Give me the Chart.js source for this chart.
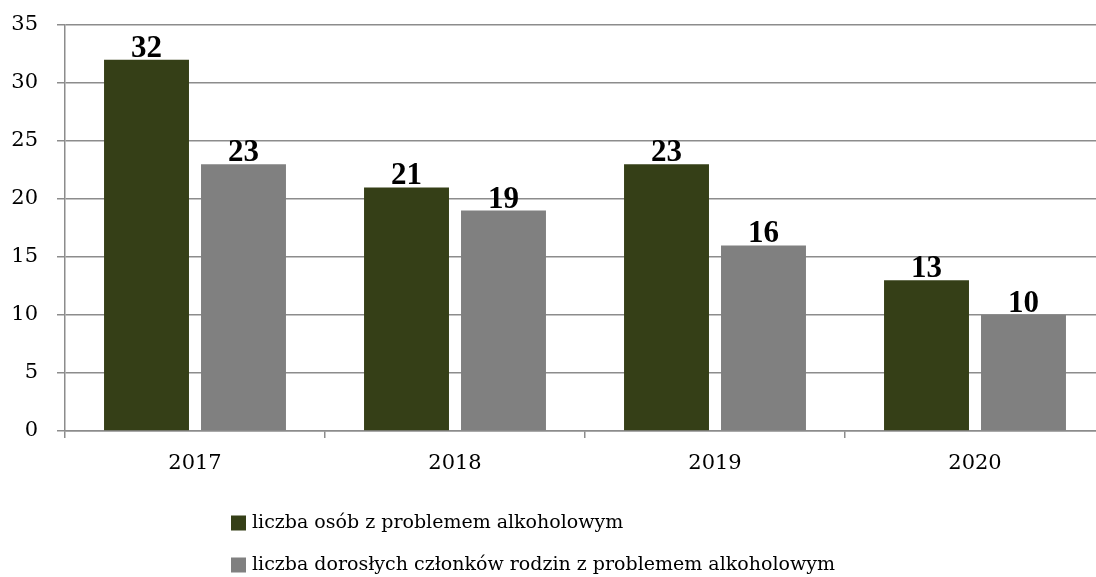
<!DOCTYPE html>
<html>
<head>
<meta charset="utf-8">
<script src="https://cdn.jsdelivr.net/npm/chart.js@4/dist/chart.umd.min.js"></script>
<style>
  html, body { margin: 0; padding: 0; background: #fff; overflow: hidden; }
  .chart-box { position: relative; width: 1105px; height: 577px; }
</style>
</head>
<body>
<div class="chart-box">
  <canvas id="chart"></canvas>
</div>
<script>
// chart data
const years = ['2017', '2018', '2019', '2020'];
const osobyZProblemem = [32, 21, 23, 13];
const czlonkowieRodzin = [23, 19, 16, 10];
const seriesNames = [
  'liczba osób z problemem alkoholowym',
  'liczba dorosłych członków rodzin z problemem alkoholowym'
];
const yTicks = [0, 5, 10, 15, 20, 25, 30, 35];

const gridColor = '#8c8c8c';
const serif = "'DejaVu Serif', serif";
const boldSerif = "'Liberation Serif', serif";

// value labels on top of each bar
const valueLabels = {
  id: 'valueLabels',
  afterDatasetsDraw(chart) {
    const ctx = chart.ctx;
    ctx.save();
    ctx.font = 'bold 31px ' + boldSerif;
    ctx.fillStyle = '#000';
    ctx.textAlign = 'center';
    ctx.textBaseline = 'alphabetic';
    chart.data.datasets.forEach((ds, i) => {
      chart.getDatasetMeta(i).data.forEach((bar, j) => {
        ctx.fillText(ds.data[j], bar.x, bar.y - 3);
      });
    });
    ctx.restore();
  }
};

// legend stacked in two rows, left aligned
const stackedLegend = {
  id: 'stackedLegend',
  afterDraw(chart) {
    const ctx = chart.ctx;
    const left = 231;
    ctx.save();
    ctx.font = '19px ' + serif;
    ctx.textBaseline = 'middle';
    chart.data.datasets.forEach((ds, i) => {
      const cy = chart.chartArea.bottom + 92 + i * 42;
      ctx.fillStyle = ds.backgroundColor;
      ctx.fillRect(left, cy - 7.5, 15, 15);
      ctx.fillStyle = '#000';
      ctx.fillText(ds.label, left + 21, cy);
    });
    ctx.restore();
  }
};

new Chart(document.getElementById('chart'), {
  type: 'bar',
  data: {
    labels: years,
    datasets: [
      {
        label: seriesNames[0],
        data: osobyZProblemem,
        backgroundColor: '#353f17',
        categoryPercentage: 0.746,
        barPercentage: 0.876
      },
      {
        label: seriesNames[1],
        data: czlonkowieRodzin,
        backgroundColor: '#808080',
        categoryPercentage: 0.746,
        barPercentage: 0.876
      }
    ]
  },
  options: {
    responsive: true,
    maintainAspectRatio: false,
    animation: false,
    layout: { padding: { top: 25, right: 0, bottom: 100, left: 0 } },
    plugins: {
      legend: { display: false },
      tooltip: { enabled: false }
    },
    scales: {
      x: {
        grid: {
          display: true,
          drawOnChartArea: false,
          color: gridColor,
          lineWidth: 1.5,
          tickLength: 7
        },
        border: { color: gridColor, width: 1.5 },
        ticks: {
          color: '#000',
          font: { family: serif, size: 21 },
          padding: 13
        },
        afterFit(scale) { scale.height = 46; }
      },
      y: {
        min: 0,
        max: 35,
        afterBuildTicks(scale) {
          scale.ticks = yTicks.map(v => ({ value: v }));
        },
        grid: {
          color: gridColor,
          lineWidth: 1.5,
          tickLength: 8
        },
        border: { color: gridColor, width: 1.5 },
        ticks: {
          color: '#000',
          font: { family: serif, size: 21 },
          padding: 19
        },
        afterFit(scale) {
          scale.width = 65;
          scale.paddingTop = 0;
          scale.paddingBottom = 0;
        }
      }
    }
  },
  plugins: [valueLabels, stackedLegend]
});
</script>
</body>
</html>
